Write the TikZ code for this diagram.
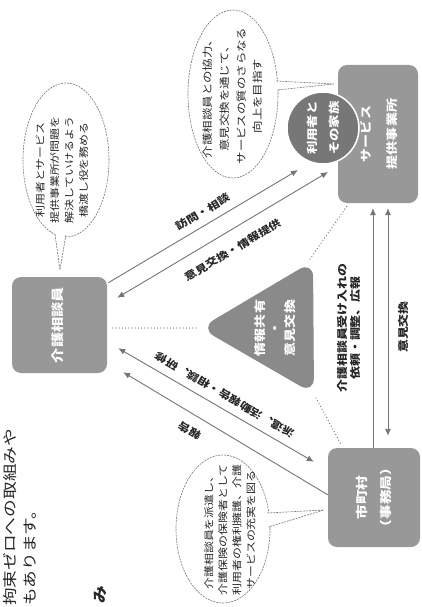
\documentclass[tikz,border=0pt]{standalone}
\usepackage{fontspec}
\usepackage{graphicx}
\setmainfont{Noto Sans CJK JP}[FakeStretch=1.22]
\usetikzlibrary{shapes.geometric,arrows.meta,calc}
\definecolor{boxgray}{HTML}{989898}
\definecolor{trigray}{HTML}{8A8A8A}
\definecolor{famgray}{HTML}{777777}
\definecolor{linegray}{HTML}{757575}
\definecolor{txtgray}{HTML}{262626}
\newcommand{\vtxt}[1]{\rotatebox{90}{\begin{tabular}{@{}c@{}}#1\end{tabular}}}
\begin{document}
\begin{tikzpicture}[x=1pt,y=-1pt,
  box/.style={fill=boxgray, rounded corners=9pt, text=white, inner sep=0pt},
  bubble/.style={ellipse, draw=linegray, dash pattern=on 2pt off 1pt, line width=0.6pt, fill=white, inner sep=0pt},
  bubtxt/.style={rotate=90, align=center, text=txtgray, inner sep=0pt},
  link/.style={draw=linegray, line width=0.9pt},
  tipend/.style={-{Latex[length=7pt,width=6pt]}},
  tipboth/.style={{Latex[length=7pt,width=6pt]}-{Latex[length=7pt,width=6pt]}},
  tipstart/.style={{Latex[length=7pt,width=6pt]}-},
  dots/.style={draw=linegray, line width=1.3pt, line cap=round, dash pattern=on 0pt off 3.2pt},
  lbl/.style={text=txtgray, inner sep=0pt, font=\fontsize{10}{12}\selectfont\bfseries},
  tail/.style={fill=white, draw=none},
  tailline/.style={draw=linegray, dash pattern=on 2pt off 1pt, line width=0.6pt},
]
\useasboundingbox (0,0) rectangle (421,607);
\fill[white] (0,0) rectangle (421,607);

% body text
\node[rotate=90, anchor=west, text=txtgray, inner sep=0pt, font=\fontsize{14.5}{16}\selectfont] (body1) at (10,606) {拘束ゼロへの取組みや};
\node[rotate=90, anchor=west, text=txtgray, inner sep=0pt, font=\fontsize{14.5}{16}\selectfont] (body2) at (30,606) {もあります。};
\node[rotate=90, anchor=west, text=txtgray, inner sep=0pt, font=\fontsize{14.5}{16}\selectfont\bfseries] (head) at (100,604) {み};

% boxes
\node[box, minimum width=95pt, minimum height=96pt, font=\fontsize{12.5}{15}\selectfont\bfseries] (kaigo) at (59.5,325) {\vtxt{介護相談員}};
\node[box, minimum width=80pt, minimum height=138pt, font=\fontsize{11.5}{26}\selectfont\bfseries] (jigyo) at (378,134) {\vtxt{サービス\\提供事業所}};
\node[box, minimum width=92pt, minimum height=99pt, font=\fontsize{12}{24}\selectfont\bfseries] (shi) at (374,497.5) {\vtxt{市町村\\（事務局）}};
\node[circle, fill=famgray, draw=white, line width=1.5pt, minimum size=72pt, inner sep=0pt, text=white, font=\fontsize{11}{22}\selectfont\bfseries] (fam) at (323,128) {\vtxt{利用者と\\その家族}};

% triangle
\coordinate (tA) at (200,328);
\coordinate (tB) at (313,261);
\coordinate (tC) at (314,394);
\fill[trigray, rounded corners=16pt] (tA) -- (tB) -- (tC) -- cycle;
\node[rotate=90, align=center, text=white, inner sep=0pt, font=\fontsize{11.5}{15}\selectfont\bfseries] (tri) at (275,328) {情報共有\\・\\意見交換};

% dotted links
\draw[dots] ($(tA)+(-4,0)$) -- ($(kaigo.east)+(4,3)$);
\draw[dots] ($(tB)+(-3,-2)$) -- ($(jigyo.south west)+(9,3)$);
\draw[dots] ($(tC)+(2,4)$) -- ($(shi.north west)+(14,-2)$);

% bubbles
\node[bubble, minimum width=86pt, minimum height=154pt] (b1) at (66,160) {};
\fill[tail] ($(b1.south)+(-11,-5)$) -- ($(kaigo.north)+(0.5,-7)$) -- ($(b1.south)+(0,-5)$) -- cycle;
\draw[tailline] ($(b1.south)+(-11,-3)$) -- ($(kaigo.north)+(0.5,-7)$) -- ($(b1.south)+(0,-3)$);
\node[bubtxt, font=\fontsize{9.8}{14.5}\selectfont] (b1t) at (62,170) {利用者とサービス\\提供事業所が問題を\\解決していけるよう\\橋渡し役を務める};

\node[bubble, minimum width=90pt, minimum height=168pt] (b2) at (233,94) {};
\fill[tail] ($(b2.east)+(-5,-13)$) -- ($(jigyo.west)+(-4,-50)$) -- ($(b2.east)+(-4,-4)$) -- cycle;
\draw[tailline] ($(b2.east)+(-2,-13)$) -- ($(jigyo.west)+(-4,-50)$) -- ($(b2.east)+(-1,-4)$);
\node[bubtxt, font=\fontsize{10.2}{16.7}\selectfont] (b2t) at (233,96) {介護相談員との協力、\\意見交換を通じて、\\サービスの質のさらなる\\向上を目指す};

\node[bubble, minimum width=94pt, minimum height=148pt] (b3) at (223,529) {};
\fill[tail] ($(b3.east)+(-6,-16)$) -- ($(shi.west)+(-4,12.5)$) -- ($(b3.east)+(-5,-2)$) -- cycle;
\draw[tailline] ($(b3.east)+(-3,-16)$) -- ($(shi.west)+(-4,12.5)$) -- ($(b3.east)+(-2,-2)$);
\node[bubtxt, font=\fontsize{9.8}{14}\selectfont] (b3t) at (230,530) {介護相談員を派遣し、\\介護保険の保険者として\\利用者の権利擁護、介護\\サービスの充実を図る};

% connectors kaigo - jigyo
\draw[link, tipend] ($(kaigo.north east)+(1,6)$) -- ($(fam.center)+(-25,42)$);
\draw[link, tipboth] ($(kaigo.north east)+(10,21)$) -- ($(fam.center)+(5,44)$);
\node[lbl, rotate=30.8] (l1) at (203,212) {訪問・相談};
\node[lbl, rotate=30.8] (l2) at (233,250) {意見交換・情報提供};

% connectors kaigo - shi
\draw[link, tipboth] ($(kaigo.south east)+(11,-25)$) -- ($(shi.north west)+(-14,14)$);
\draw[link, tipstart] ($(kaigo.south east)+(16,-1)$) -- ($(shi.north west)+(0,47)$);
\node[lbl, rotate=149.7] (l3) at (225,395) {派遣、活動報告・相談、研修};
\node[lbl, rotate=149.7] (l4) at (190,431) {報告};

% connectors jigyo - shi
\draw[link, tipend] (shi.north -| 373,0) -- ($(jigyo.south)+(-5,5)$);
\draw[link, tipboth] ($(shi.north)+(14,-12)$) -- ($(jigyo.south)+(10,5)$);
\node[lbl, rotate=90, align=center, font=\fontsize{10.6}{13}\selectfont\bfseries] (l5) at (349,328) {介護相談員受け入れの\\依頼・調整、広報};
\node[lbl, rotate=90, font=\fontsize{10.6}{13}\selectfont\bfseries] (l6) at (403,327) {意見交換};
\end{tikzpicture}
\end{document}
